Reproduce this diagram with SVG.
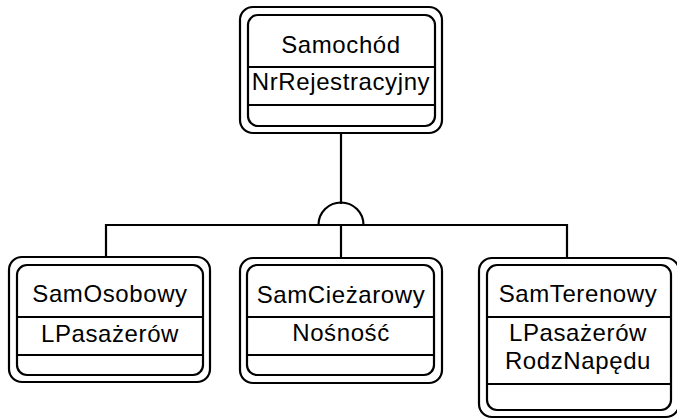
<svg xmlns="http://www.w3.org/2000/svg" width="677" height="420" viewBox="0 0 677 420">
  <style>
    .frame { fill: none; stroke: #000; stroke-width: 2.2; }
    .sep { stroke: #000; stroke-width: 2.2; }
    .wire { fill: none; stroke: #000; stroke-width: 2.2; }
    text { font-family: "Liberation Sans", Arial, sans-serif; font-size: 24px; letter-spacing: 0.6px; fill: #000; text-anchor: middle; }
  </style>
  <rect width="677" height="420" fill="#fff"/>

  <!-- connectors: generalisation hierarchy -->
  <g id="connectors">
    <line class="wire" x1="341" y1="133" x2="341" y2="204"/>
    <path class="wire" d="M 106 257 V 225 H 318.5 A 22.5 22.5 0 0 1 363.5 225 H 567 V 257"/>
    <line class="wire" x1="318.5" y1="225" x2="363.5" y2="225"/>
    <line class="wire" x1="341" y1="225" x2="341" y2="258"/>
  </g>

  <!-- supertype -->
  <g id="samochod">
    <rect class="frame" x="240" y="7" width="202" height="126" rx="13"/>
    <rect class="frame" x="248" y="15" width="187" height="111" rx="10"/>
    <line class="sep" x1="248" y1="67" x2="435" y2="67"/>
    <line class="sep" x1="248" y1="105" x2="435" y2="105"/>
    <text x="341" y="53">Samochód</text>
    <text x="341" y="90">NrRejestracyjny</text>
  </g>

  <!-- subtypes -->
  <g id="samosobowy">
    <rect class="frame" x="9" y="257" width="201" height="125" rx="13"/>
    <rect class="frame" x="17" y="265" width="186" height="110" rx="10"/>
    <line class="sep" x1="17" y1="317" x2="203" y2="317"/>
    <line class="sep" x1="17" y1="355" x2="203" y2="355"/>
    <text x="110" y="302">SamOsobowy</text>
    <text x="110" y="342">LPasażerów</text>
  </g>

  <g id="samciezarowy">
    <rect class="frame" x="240" y="258" width="202" height="125" rx="13"/>
    <rect class="frame" x="247" y="265" width="187" height="110" rx="10"/>
    <line class="sep" x1="247" y1="317" x2="434" y2="317"/>
    <line class="sep" x1="247" y1="355" x2="434" y2="355"/>
    <text x="341" y="303">SamCieżarowy</text>
    <text x="341" y="341">Nośność</text>
  </g>

  <g id="samterenowy">
    <rect class="frame" x="479" y="258" width="200" height="159" rx="13"/>
    <rect class="frame" x="487" y="265" width="184" height="145" rx="10"/>
    <line class="sep" x1="487" y1="317" x2="671" y2="317"/>
    <line class="sep" x1="487" y1="384" x2="671" y2="384"/>
    <text x="578" y="302">SamTerenowy</text>
    <text x="578" y="341">LPasażerów</text>
    <text x="578" y="369">RodzNapędu</text>
  </g>
</svg>
